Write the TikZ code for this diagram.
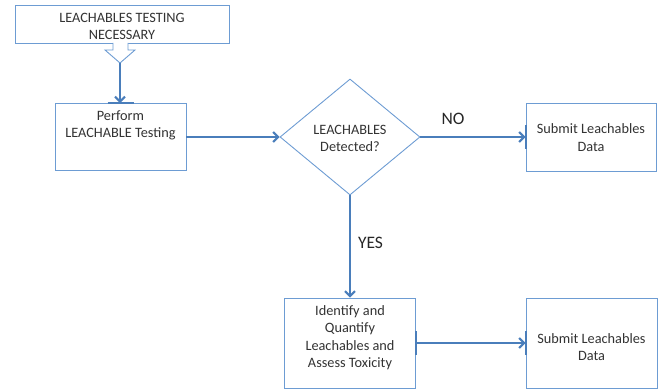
\documentclass[tikz,border=0pt]{standalone}
\usepackage{fontspec}
\setmainfont{Carlito}
\usetikzlibrary{arrows.meta,shapes.geometric}
\definecolor{boxblue}{HTML}{6D9CD3}
\definecolor{arrblue}{HTML}{4A7EBB}
\begin{document}
\begin{tikzpicture}[x=1pt,y=-1pt,
  box/.style={draw=boxblue, line width=0.9pt, fill=white, inner sep=0pt},
  txt/.style={align=center, font=\fontsize{14.3}{17.5}\selectfont, inner sep=0pt, text=black!80},
  conn/.style={draw=arrblue, line width=2.2pt, -{Straight Barb[length=5pt,width=10pt,line width=2pt]}},
  tickmark/.style={draw=arrblue, line width=2pt},
  lbl/.style={font=\fontsize{17.5}{20}\selectfont, inner sep=0pt, text=black!85}]
\useasboundingbox (0,0) rectangle (664,390);
% start box
\node[box, minimum width=214pt, minimum height=38pt] (top) at (122,24) {};
\node[txt] (toptxt) at (122,26.5) {LEACHABLES TESTING\\NECESSARY};
% hollow block arrow
\draw[boxblue, line width=0.9pt, fill=white, line join=miter]
  (113,43) -- (113,50) -- (105,50) -- (120,63) -- (135,50) -- (128,50) -- (128,43);
\coordinate (htip) at (120,63);
% perform box
\node[box, minimum width=131pt, minimum height=67pt] (perform) at (120.5,137) {};
\node[txt] (performtxt) at (120.5,125.5) {Perform\\LEACHABLE Testing};
% decision
\node[draw=boxblue, line width=0.9pt, diamond, minimum width=140pt, minimum height=116pt, inner sep=0pt] (dec) at (350,137) {};
\node[txt] (dectxt) at (350,138.5) {LEACHABLES\\Detected?};
% submit 1
\node[box, minimum width=130pt, minimum height=68pt] (sub1) at (591,137) {};
\node[txt] (sub1txt) at (591,137.5) {Submit Leachables\\Data};
% identify box
\node[box, minimum width=131pt, minimum height=90pt] (ident) at (350,343) {};
\node[txt] (identtxt) at (350,337.5) {Identify and\\Quantify\\Leachables and\\Assess Toxicity};
% submit 2
\node[box, minimum width=131pt, minimum height=90pt] (sub2) at (591.5,343) {};
\node[txt] (sub2txt) at (591.5,347) {Submit Leachables\\Data};
% connection ticks
\draw[tickmark, line width=1.1pt] ([xshift=-13pt]perform.north) -- ([xshift=13pt]perform.north);
\draw[tickmark] ([yshift=12pt]sub1.west) -- ([yshift=-12pt]sub1.west);
\draw[tickmark] ([yshift=12pt]ident.east) -- ([yshift=-12pt]ident.east);
\draw[tickmark] ([yshift=12pt]sub2.west) -- ([yshift=-12pt]sub2.west);
% connectors
\draw[conn] (htip) -- (htip |- perform.north);
\draw[conn] (perform.east) -- (dec.west);
\draw[conn] (dec.east) -- (sub1.west);
\draw[conn] (dec.south) -- (ident.north);
\draw[conn] (ident.east) -- (sub2.west);
% labels
\node[lbl] (no) at (453,119) {NO};
\node[lbl] (yes) at (370.5,243) {YES};
\end{tikzpicture}
\end{document}
